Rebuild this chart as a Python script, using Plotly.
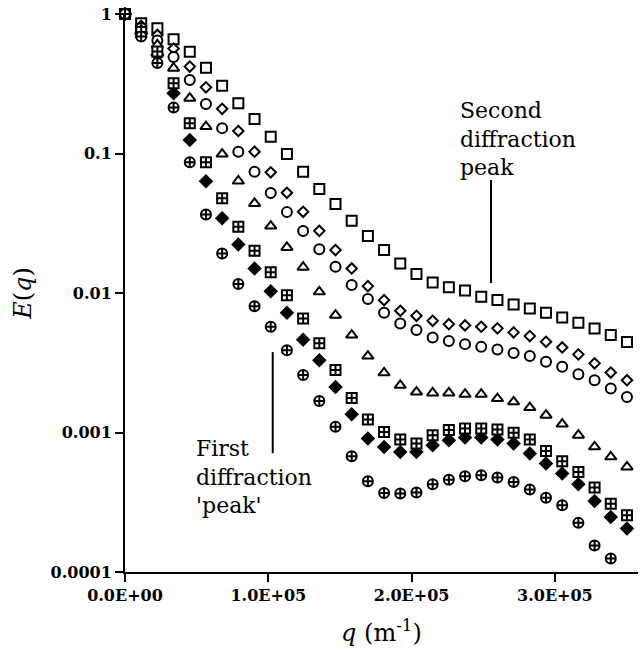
import plotly.graph_objects as go

# q values (m^-1)
q = [0, 11300, 22600, 33900, 45200, 56500, 67800, 79100, 90400, 101700,
     113000, 124300, 135600, 146900, 158200, 169500, 180800, 192100, 203400, 214700,
     226000, 237300, 248600, 259900, 271200, 282500, 293800, 305100, 316400, 327700,
     339000, 350300]

open_squares = [1.0, 0.859, 0.791, 0.659, 0.537, 0.412, 0.306, 0.229, 0.177, 0.132,
                0.0991, 0.0740, 0.0556, 0.0434, 0.0330, 0.0256, 0.0203, 0.0163, 0.0137, 0.0119,
                0.0110, 0.0104, 0.0094, 0.0089, 0.00828, 0.00775, 0.00721, 0.00668, 0.00611, 0.00557,
                0.00499, 0.00446]
open_diamonds = [1.0, 0.822, 0.708, 0.565, 0.420, 0.298, 0.209, 0.145, 0.103, 0.0733,
                 0.0523, 0.0382, 0.0279, 0.0203, 0.0150, 0.0112, 0.00889, 0.00745, 0.00686, 0.00632,
                 0.00598, 0.00586, 0.00573, 0.00558, 0.00522, 0.00491, 0.00447, 0.00407, 0.00363, 0.00313,
                 0.00269, 0.00237]
open_circles = [1.0, 0.795, 0.647, 0.492, 0.337, 0.226, 0.152, 0.103, 0.0740, 0.0521,
                0.0380, 0.0278, 0.0206, 0.0154, 0.0114, 0.00904, 0.00721, 0.00605, 0.00542, 0.00480,
                0.00452, 0.00430, 0.00411, 0.00394, 0.00372, 0.00353, 0.00321, 0.00296, 0.00262, 0.00237,
                0.00207, 0.00180]
open_triangles = [1.0, 0.769, 0.600, 0.409, 0.249, 0.156, 0.0991, 0.0635, 0.0439, 0.0302,
                  0.0212, 0.0153, 0.0102, 0.00694, 0.00499, 0.00353, 0.00268, 0.00218, 0.00195, 0.00192,
                  0.00192, 0.00188, 0.00188, 0.00175, 0.00166, 0.00151, 0.00133, 0.00115, 0.000957, 0.000789,
                  0.000669, 0.000567]
filled_diamonds = [1.0, 0.726, 0.509, 0.270, 0.125, 0.0632, 0.0343, 0.0223, 0.0150, 0.0103,
                   0.00721, 0.00463, 0.00330, 0.00212, 0.00135, 0.000906, 0.000788, 0.000726, 0.000726, 0.000811,
                   0.000881, 0.000921, 0.000921, 0.000891, 0.000834, 0.000707, 0.000600, 0.000508, 0.000426, 0.000323,
                   0.000248, 0.000205]
square_plus = [1.0, 0.744, 0.539, 0.319, 0.165, 0.0865, 0.0477, 0.0299, 0.0201, 0.0141,
               0.00962, 0.00657, 0.00437, 0.00280, 0.00177, 0.00124, 0.00101, 0.000891, 0.000834, 0.000957,
               0.00104, 0.00107, 0.00107, 0.00105, 0.000994, 0.000891, 0.000738, 0.000622, 0.000521, 0.000403,
               0.000309, 0.000255]
circle_plus = [1.0, 0.691, 0.446, 0.214, 0.0865, 0.0366, 0.0192, 0.0116, 0.00805, 0.00573,
               0.00389, 0.00258, 0.00168, 0.00110, 0.000676, 0.000448, 0.000369, 0.000365, 0.000371, 0.000426,
               0.000459, 0.000486, 0.000494, 0.000476, 0.000442, 0.000390, 0.000340, 0.000301, 0.000225, 0.000155,
               0.000125]

x_tickvals = [0, 1e5, 2e5, 3e5]
x_ticktext = ["0.0E+00", "1.0E+05", "2.0E+05", "3.0E+05"]
y_tickvals = [1e-4, 1e-3, 1e-2, 1e-1, 1]
y_ticktext = ["0.0001", "0.001", "0.01", "0.1", "1"]

# pointer lines (q, E) for annotations
second_peak_q = [255400, 255400]
second_peak_E = [0.0645, 0.0118]
first_peak_q = [103100, 103100]
first_peak_E = [0.00377, 0.00071]

series = [
    (open_squares, "square", "white", 10),
    (open_diamonds, "diamond", "white", 8),
    (open_circles, "circle", "white", 10),
    (open_triangles, "triangle-up", "white", 10),
    (filled_diamonds, "diamond", "black", 9),
    (square_plus, "square-cross", "white", 10),
    (circle_plus, "circle-cross", "white", 10),
]

fig = go.Figure()
for vals, sym, fill, size in series:
    fig.add_trace(go.Scatter(
        x=q[:len(vals)], y=vals, mode="markers", cliponaxis=False,
        marker=dict(symbol=sym, size=size, color=fill,
                    line=dict(color="black", width=2)),
        showlegend=False, hoverinfo="skip"))

for xs, ys in [(second_peak_q, second_peak_E), (first_peak_q, first_peak_E)]:
    fig.add_trace(go.Scatter(x=xs, y=ys, mode="lines",
                             line=dict(color="black", width=2),
                             showlegend=False, hoverinfo="skip"))

serif = "DejaVu Serif"
axis_common = dict(
    showline=True, linewidth=2, linecolor="black", mirror=False,
    ticks="outside", ticklen=8, tickwidth=2, tickcolor="black",
    showgrid=False, zeroline=False,
    tickfont=dict(family=serif, size=16, color="black", weight="bold"),
)

fig.update_layout(
    width=640, height=657, autosize=False,
    margin=dict(l=125, r=2, t=14, b=85),
    paper_bgcolor="white", plot_bgcolor="white",
    font=dict(family=serif, color="black"),
    xaxis=dict(range=[0, 358000], tickvals=x_tickvals, ticktext=x_ticktext,
               title=dict(text="<i>q</i> (m<sup>-1</sup>)",
                          font=dict(family=serif, size=24, color="black"),
                          standoff=20),
               **axis_common),
    yaxis=dict(type="log", range=[-4, 0], tickvals=y_tickvals, ticktext=y_ticktext,
               title=dict(text="<i>E</i>(<i>q</i>)",
                          font=dict(family=serif, size=24, color="black"),
                          standoff=12),
               **axis_common),
    annotations=[
        dict(x=232400, y=-0.896, xref="x", yref="y", text="Second<br>diffraction<br>peak",
             showarrow=False, xanchor="left", yanchor="middle", align="left",
             font=dict(family=serif, size=22, color="black")),
        dict(x=48150, y=-3.321, xref="x", yref="y", text="First<br>diffraction<br>'peak'",
             showarrow=False, xanchor="left", yanchor="middle", align="left",
             font=dict(family=serif, size=22, color="black")),
    ],
)

fig.write_html("out.html")
